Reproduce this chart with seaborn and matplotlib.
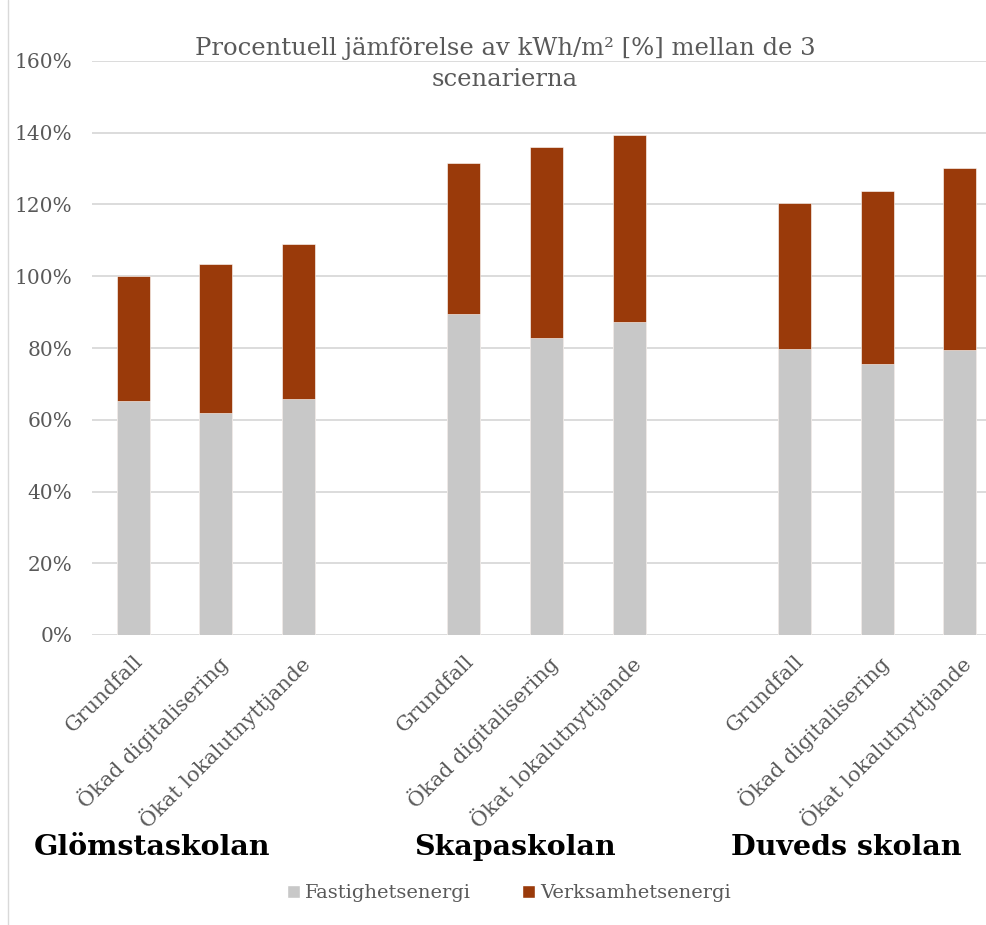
import matplotlib
matplotlib.use("Agg")
import matplotlib.pyplot as plt
from matplotlib.patches import Patch
from matplotlib.lines import Line2D
from matplotlib.ticker import FuncFormatter
import seaborn as sns
import pandas as pd

# Data (percent of Glömstaskolan Grundfall)
schools = ["Glömstaskolan", "Skapaskolan", "Duveds skolan"]
scenarios = ["Grundfall", "Ökad digitalisering", "Ökat lokalutnyttjande"]
fastighet = [65.2, 61.9, 65.8, 89.5, 82.8, 87.2, 79.7, 75.5, 79.4]
verksamhet = [34.9, 41.5, 43.2, 42.1, 53.2, 52.2, 40.7, 48.3, 50.8]

grey = "#C8C8C8"
brown = "#9A3A0A"
text_grey = "#595959"

rows = []
for i, s in enumerate(schools):
    for j, sc in enumerate(scenarios):
        k = i * 3 + j
        rows.append({"key": f"{s}|{sc}", "label": sc,
                     "fast": fastighet[k], "total": fastighet[k] + verksamhet[k]})
df = pd.DataFrame(rows)

# category order with an empty slot between schools
order = []
for i, s in enumerate(schools):
    order += [f"{s}|{sc}" for sc in scenarios]
    if i < len(schools) - 1:
        order.append(f"gap{i}")

sns.set_style("white")
plt.rcParams["font.family"] = ["DejaVu Serif"]

fig = plt.figure(figsize=(9.86, 9.25), dpi=100)
ax = fig.add_axes([92 / 986, 290 / 925, 909 / 986, 574 / 925])

sns.barplot(data=df, x="key", y="total", order=order, color=brown, width=0.4,
            saturation=1, ax=ax, edgecolor="white", linewidth=0.4)
sns.barplot(data=df, x="key", y="fast", order=order, color=grey, width=0.4,
            saturation=1, ax=ax, edgecolor="white", linewidth=0.4)

ax.set_ylim(0, 160)
ax.set_yticks(range(0, 161, 20))
ax.yaxis.set_major_formatter(FuncFormatter(lambda v, p: f"{v:.0f}%"))
ax.grid(axis="y", color="#D9D9D9", linewidth=1.3)
ax.set_axisbelow(True)
for sp in ax.spines.values():
    sp.set_visible(False)

labels = df.set_index("key")["label"]
ax.set_xticks(range(len(order)))
ax.set_xticklabels([labels.get(k, "") for k in order],
                   rotation=45, ha="right", rotation_mode="anchor")
ax.tick_params(axis="x", length=0, pad=12, labelsize=15, labelcolor=text_grey)
ax.tick_params(axis="y", length=0, pad=14, labelsize=14.5, labelcolor=text_grey)
ax.set_xlabel("")
ax.set_ylabel("")

# school names under each group
trans = ax.get_xaxis_transform()
for xpos, s in zip([0.23, 4.62, 8.63], schools):
    ax.text(xpos, -0.37, s, transform=trans, ha="center", va="center",
            fontsize=20.5, fontweight="bold", color="black")

fig.text(505 / 986, 1 - 64 / 925,
         "Procentuell jämförelse av kWh/m² [%] mellan de 3\nscenarierna",
         ha="center", va="center", fontsize=17.5, color=text_grey, linespacing=1.4)

handles = [Patch(facecolor=grey, label="Fastighetsenergi"),
           Patch(facecolor=brown, label="Verksamhetsenergi")]
fig.legend(handles=handles, loc="center", bbox_to_anchor=(509 / 986, 1 - 893 / 925),
           ncol=2, frameon=False, fontsize=14, labelcolor=text_grey,
           handlelength=0.65, handleheight=0.65, handletextpad=0.3, columnspacing=2.6)

fig.add_artist(Line2D([8 / 986, 8 / 986], [0, 1], color="#D9D9D9", linewidth=1))

fig.savefig("out.png", dpi=100)
